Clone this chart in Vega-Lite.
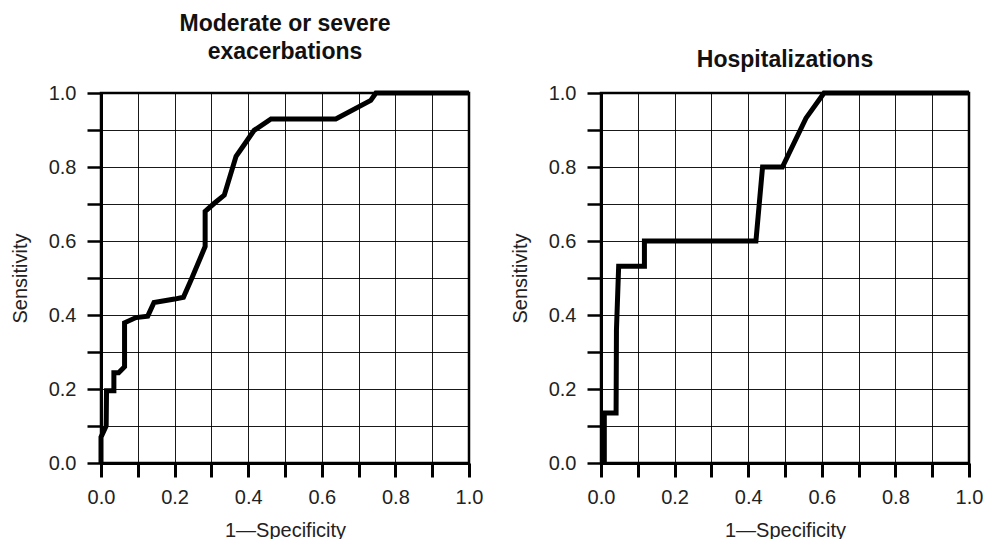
{
  "$schema": "https://vega.github.io/schema/vega-lite/v6.json",
  "background": "white",
  "padding": {"left": 8, "top": 11, "right": 5, "bottom": 0},
  "datasets": {
    "mod": [
      {"i": 0, "fpr": 0, "sens": 0},
      {"i": 1, "fpr": 0, "sens": 0.07},
      {"i": 2, "fpr": 0.014, "sens": 0.1},
      {"i": 3, "fpr": 0.015, "sens": 0.195},
      {"i": 4, "fpr": 0.035, "sens": 0.195},
      {"i": 5, "fpr": 0.035, "sens": 0.244},
      {"i": 6, "fpr": 0.048, "sens": 0.244},
      {"i": 7, "fpr": 0.064, "sens": 0.26},
      {"i": 8, "fpr": 0.064, "sens": 0.379},
      {"i": 9, "fpr": 0.095, "sens": 0.393},
      {"i": 10, "fpr": 0.127, "sens": 0.397},
      {"i": 11, "fpr": 0.144, "sens": 0.434},
      {"i": 12, "fpr": 0.2, "sens": 0.443},
      {"i": 13, "fpr": 0.224, "sens": 0.448},
      {"i": 14, "fpr": 0.245, "sens": 0.495},
      {"i": 15, "fpr": 0.283, "sens": 0.585},
      {"i": 16, "fpr": 0.283, "sens": 0.68},
      {"i": 17, "fpr": 0.308, "sens": 0.702},
      {"i": 18, "fpr": 0.335, "sens": 0.724},
      {"i": 19, "fpr": 0.367, "sens": 0.829},
      {"i": 20, "fpr": 0.389, "sens": 0.86},
      {"i": 21, "fpr": 0.416, "sens": 0.899},
      {"i": 22, "fpr": 0.462, "sens": 0.93},
      {"i": 23, "fpr": 0.638, "sens": 0.93},
      {"i": 24, "fpr": 0.733, "sens": 0.98},
      {"i": 25, "fpr": 0.747, "sens": 1},
      {"i": 26, "fpr": 1, "sens": 1}
    ],
    "hosp": [
      {"i": 0, "fpr": 0.009, "sens": 0},
      {"i": 1, "fpr": 0.009, "sens": 0.135},
      {"i": 2, "fpr": 0.041, "sens": 0.135},
      {"i": 3, "fpr": 0.042, "sens": 0.36},
      {"i": 4, "fpr": 0.048, "sens": 0.532},
      {"i": 5, "fpr": 0.118, "sens": 0.532},
      {"i": 6, "fpr": 0.118, "sens": 0.6},
      {"i": 7, "fpr": 0.421, "sens": 0.6},
      {"i": 8, "fpr": 0.439, "sens": 0.8},
      {"i": 9, "fpr": 0.493, "sens": 0.8},
      {"i": 10, "fpr": 0.557, "sens": 0.932},
      {"i": 11, "fpr": 0.606, "sens": 1},
      {"i": 12, "fpr": 1, "sens": 1}
    ]
  },
  "spacing": 23,
  "hconcat": [
    {
      "width": 368,
      "height": 370,
      "title": {"text": ["Moderate or severe", "exacerbations"], "offset": 19},
      "data": {"name": "mod"},
      "mark": {"type": "line", "color": "black", "strokeWidth": 5, "strokeJoin": "miter", "clip": false},
      "encoding": {
        "x": {"field": "fpr", "type": "quantitative", "title": "1—Specificity", "scale": {"domain": [0, 1], "nice": false, "zero": false}},
        "y": {"field": "sens", "type": "quantitative", "title": "Sensitivity", "scale": {"domain": [0, 1], "nice": false, "zero": false}},
        "order": {"field": "i", "type": "quantitative"}
      }
    },
    {
      "width": 368,
      "height": 370,
      "title": {"text": "Hospitalizations", "offset": 11},
      "data": {"name": "hosp"},
      "mark": {"type": "line", "color": "black", "strokeWidth": 5, "strokeJoin": "miter", "clip": false},
      "encoding": {
        "x": {"field": "fpr", "type": "quantitative", "title": "1—Specificity", "scale": {"domain": [0, 1], "nice": false, "zero": false}},
        "y": {"field": "sens", "type": "quantitative", "title": "Sensitivity", "scale": {"domain": [0, 1], "nice": false, "zero": false}},
        "order": {"field": "i", "type": "quantitative"}
      }
    }
  ],
  "config": {
    "font": "Liberation Sans",
    "view": {"stroke": "black", "strokeWidth": 2.5},
    "title": {"font": "Liberation Sans", "fontSize": 23, "fontWeight": "bold", "color": "#111", "baseline": "bottom", "lineHeight": 28, "anchor": "middle"},
    "axis": {
      "values": [0, 0.1, 0.2, 0.3, 0.4, 0.5, 0.6, 0.7, 0.8, 0.9, 1],
      "labelExpr": "round(datum.value * 10) % 2 == 0 ? format(datum.value, '.1f') : ''",
      "labelFont": "Liberation Sans",
      "labelFontSize": 20,
      "labelColor": "#222",
      "labelFlush": false,
      "labelOverlap": false,
      "labelBound": false,
      "titleFont": "Liberation Sans",
      "titleFontSize": 20,
      "titleFontWeight": "normal",
      "titleColor": "#222",
      "domainColor": "black",
      "domainWidth": 3,
      "tickColor": "black",
      "tickSize": 14,
      "grid": true,
      "gridColor": "black",
      "gridWidth": 1,
      "gridOpacity": 0.9
    },
    "axisX": {"tickWidth": 3, "labelPadding": 10, "titlePadding": 13},
    "axisY": {"tickWidth": 2.5, "labelPadding": 11, "titlePadding": 18}
  }
}
